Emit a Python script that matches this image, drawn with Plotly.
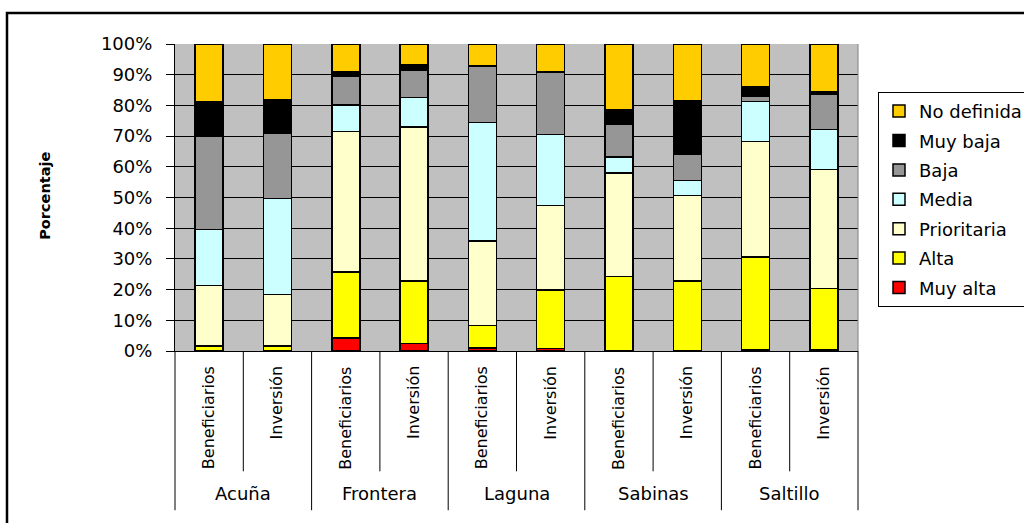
import plotly.graph_objects as go

regions = ["Acuña", "Frontera", "Laguna", "Sabinas", "Saltillo"]
kinds = ["Beneficiarios", "Inversión"]
categories = [(r, k) for r in regions for k in kinds]

series_names = ["Muy alta", "Alta", "Prioritaria", "Media", "Baja", "Muy baja", "No definida"]
muy_alta = [0, 0, 4.3, 2.5, 0.9, 0.8, 0, 0, 0.3, 0.3]
alta = [1.6, 1.6, 21.4, 20.3, 7.4, 19.0, 24.2, 22.8, 30.3, 20.1]
prioritaria = [19.8, 16.8, 45.8, 50.2, 27.5, 27.6, 33.8, 27.9, 37.7, 38.7]
media = [18.2, 31.2, 8.7, 9.6, 38.7, 23.1, 5.2, 4.9, 13.0, 13.0]
baja = [30.3, 21.3, 9.2, 9.0, 18.4, 20.3, 10.5, 8.6, 1.6, 11.4]
muy_baja = [11.4, 10.9, 1.7, 1.8, 0, 0, 4.9, 17.3, 3.3, 1.1]
no_definida = [18.7, 18.2, 8.9, 6.6, 7.1, 9.2, 21.4, 18.5, 13.8, 15.4]
series_values = [muy_alta, alta, prioritaria, media, baja, muy_baja, no_definida]
colors = ["#FF0000", "#FFFF00", "#FFFFCC", "#CCFFFF", "#969696", "#000000", "#FFCC00"]

y_ticks = list(range(0, 101, 10))
y_ticklabels = [f"{v}%" for v in y_ticks]

FONT = "DejaVu Sans, Arial, sans-serif"
W, H = 1024, 523
# plot area in page pixels: x 175..858, y 44..351.5
L = 175
T = 44
R = W - 858
B = H - 351.5
pw, ph = W - L - R, H - T - B

def py(pix):  # page pixel y -> paper
    return (H - B - pix) / ph

def px(pix):  # page pixel x -> paper
    return (pix - L) / pw

xs = list(range(len(categories)))

fig = go.Figure()
for idx, (name, vals, col) in enumerate(zip(series_names, series_values, colors)):
    fig.add_trace(go.Bar(
        x=xs, y=vals, name=name, legendgroup=name,
        legendrank=len(series_names) - idx,
        marker=dict(color=col, line=dict(color="black", width=1.5)),
    ))

shapes = []
annotations = []
n = len(categories)
for gi in range(len(regions)):
    xp = (2 * gi + 1) / n
    shapes.append(dict(type="line", xref="paper", yref="paper", x0=xp, x1=xp,
                       y0=0, y1=py(472), line=dict(color="black", width=1)))
for gi in range(len(regions) + 1):
    xp = (2 * gi) / n
    shapes.append(dict(type="line", xref="paper", yref="paper", x0=xp, x1=xp,
                       y0=0, y1=py(511), line=dict(color="black", width=1)))
shapes.append(dict(type="line", xref="paper", yref="paper", x0=1, x1=1, y0=0, y1=1,
                   line=dict(color="#808080", width=1)))
shapes.append(dict(type="rect", xref="paper", yref="paper", x0=px(7), x1=1.5,
                   y0=-0.8, y1=py(13), line=dict(color="black", width=2.5)))

for i, (r, k) in enumerate(categories):
    annotations.append(dict(x=i, xref="x", y=py(365), yref="paper", text=k,
                            textangle=-90, showarrow=False, xanchor="center",
                            yanchor="top", font=dict(family=FONT, size=16, color="black")))
for gi, r in enumerate(regions):
    annotations.append(dict(x=2 * gi + 0.5, xref="x", y=py(494), yref="paper", text=r,
                            showarrow=False, xanchor="center", yanchor="middle",
                            font=dict(family=FONT, size=18, color="black")))
annotations.append(dict(x=px(45), xref="paper", y=py(196), yref="paper", text="<b>Porcentaje</b>",
                        textangle=-90, showarrow=False, xanchor="center", yanchor="middle",
                        font=dict(family=FONT, size=14.5, color="black")))

fig.update_layout(
    width=W, height=H,
    margin=dict(l=L, r=R, t=T, b=B, autoexpand=False),
    barmode="stack", bargap=0.59,
    plot_bgcolor="#C0C0C0", paper_bgcolor="white",
    font=dict(family=FONT, size=18, color="black"),
    showlegend=True,
    legend=dict(x=px(878), y=py(92), xanchor="left", yanchor="top",
                traceorder="grouped", tracegroupgap=3,
                bordercolor="black", borderwidth=1, bgcolor="white",
                font=dict(family=FONT, size=18, color="black")),
    xaxis=dict(range=[-0.5, n - 0.5], showticklabels=False, showgrid=False,
               zeroline=False, showline=True, linecolor="black", linewidth=1, ticks=""),
    yaxis=dict(range=[0, 100], tickvals=y_ticks, ticktext=y_ticklabels,
               showgrid=True, gridcolor="black", gridwidth=1, zeroline=False,
               showline=True, linecolor="black", linewidth=1,
               ticks="outside", ticklen=8, tickcolor="black", ticklabelstandoff=10,
               tickfont=dict(family=FONT, size=18, color="black")),
    shapes=shapes, annotations=annotations,
)

fig.write_html("out.html", config={"displayModeBar": False},
               post_script="document.body.style.margin='0px';")
